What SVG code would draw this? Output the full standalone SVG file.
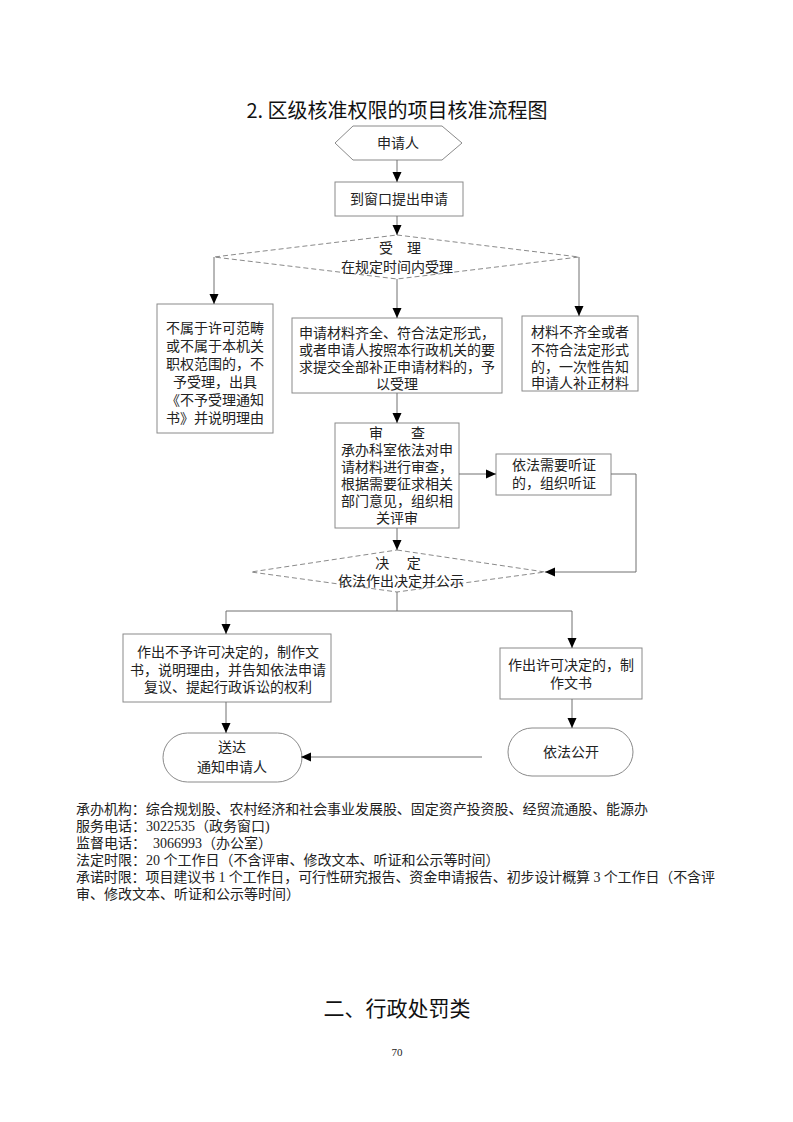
<svg xmlns="http://www.w3.org/2000/svg" width="793" height="1122" viewBox="0 0 793 1122">
<style>
.bg{fill:#fff}
.box{fill:#fff;stroke:#8a8a8a;stroke-width:1}
.dia{fill:#fff;stroke:#8a8a8a;stroke-width:1;stroke-dasharray:5 3}
.con{fill:none;stroke:#707070;stroke-width:1}
.t{font-family:"Liberation Serif","Noto Sans CJK SC",serif;font-size:14px;fill:#222;text-anchor:middle;dominant-baseline:central}
.p{font-family:"Liberation Serif","Noto Sans CJK SC",serif;font-size:14px;fill:#222;dominant-baseline:central}
.h{font-family:"Noto Sans CJK SC",sans-serif;fill:#111;text-anchor:middle}
</style>
<defs>
<marker id="arr" markerUnits="userSpaceOnUse" markerWidth="10" markerHeight="10" refX="10" refY="5" orient="auto">
<path d="M0,0.5 L10,5 L0,9.5 z" fill="#000"/>
</marker>
</defs>
<rect class="bg" x="0" y="0" width="793" height="1122"/>

<text class="h" x="397" y="118" font-size="20">2. 区级核准权限的项目核准流程图</text>

<g id="applicant">
<polygon class="box" points="335,143 353,126 442,126 462,143 442,160 353,160"/>
<text class="t" x="398" y="143">申请人</text>
</g>

<g id="submit">
<rect class="box" x="335" y="182" width="128" height="34"/>
<text class="t" x="399" y="199">到窗口提出申请</text>
</g>

<g id="accept">
<polygon class="dia" points="397,235 579,257 397,279 214,257"/>
<text class="t" x="400" y="248" xml:space="preserve">受　理</text>
<text class="t" x="397" y="267">在规定时间内受理</text>
</g>

<g id="reject">
<rect class="box" x="157" y="304" width="116" height="129"/>
<text class="t" x="215" y="328">不属于许可范畴</text>
<text class="t" x="215" y="346">或不属于本机关</text>
<text class="t" x="215" y="364">职权范围的，不</text>
<text class="t" x="215" y="382">予受理，出具</text>
<text class="t" x="215" y="400">《不予受理通知</text>
<text class="t" x="215" y="418">书》并说明理由</text>
</g>

<g id="accepted">
<rect class="box" x="292" y="318" width="210" height="75"/>
<text class="t" x="397" y="333">申请材料齐全、符合法定形式，</text>
<text class="t" x="397" y="350">或者申请人按照本行政机关的要</text>
<text class="t" x="397" y="367">求提交全部补正申请材料的，予</text>
<text class="t" x="397" y="384">以受理</text>
</g>

<g id="incomplete">
<rect class="box" x="522" y="316" width="116" height="75"/>
<text class="t" x="580" y="332">材料不齐全或者</text>
<text class="t" x="580" y="350">不符合法定形式</text>
<text class="t" x="580" y="367">的，一次性告知</text>
<text class="t" x="580" y="383">申请人补正材料</text>
</g>

<g id="review">
<rect class="box" x="335" y="423" width="124" height="105"/>
<text class="t" x="397" y="433" xml:space="preserve">审　　查</text>
<text class="t" x="397" y="450">承办科室依法对申</text>
<text class="t" x="397" y="467">请材料进行审查，</text>
<text class="t" x="397" y="484">根据需要征求相关</text>
<text class="t" x="397" y="501">部门意见，组织相</text>
<text class="t" x="397" y="518">关评审</text>
</g>

<g id="hearing">
<rect class="box" x="496" y="454" width="115" height="41"/>
<text class="t" x="554" y="465">依法需要听证</text>
<text class="t" x="554" y="483">的，组织听证</text>
</g>

<g id="decision">
<polygon class="dia" points="397,550 545,572 397,592 251,572"/>
<text class="t" x="398" y="563" xml:space="preserve">决　 定</text>
<text class="t" x="401" y="581">依法作出决定并公示</text>
</g>

<g id="deny">
<rect class="box" x="123" y="634" width="208" height="68"/>
<text class="t" x="228" y="652">作出不予许可决定的，制作文</text>
<text class="t" x="228" y="670">书，说明理由，并告知依法申请</text>
<text class="t" x="228" y="687">复议、提起行政诉讼的权利</text>
</g>

<g id="grant">
<rect class="box" x="500" y="648" width="142" height="51"/>
<text class="t" x="571" y="665">作出许可决定的，制</text>
<text class="t" x="571" y="683">作文书</text>
</g>

<g id="deliver">
<rect class="box" x="163" y="733" width="139" height="49" rx="24.5" ry="24.5"/>
<text class="t" x="232" y="747">送达</text>
<text class="t" x="232" y="767">通知申请人</text>
</g>

<g id="publish">
<rect class="box" x="508" y="728" width="125" height="48" rx="24" ry="24"/>
<text class="t" x="571" y="752">依法公开</text>
</g>

<g id="connectors">
<path class="con" d="M397,160 V182" marker-end="url(#arr)"/>
<path class="con" d="M397,216 V235" marker-end="url(#arr)"/>
<path class="con" d="M214,257 V304" marker-end="url(#arr)"/>
<path class="con" d="M397,279 V318" marker-end="url(#arr)"/>
<path class="con" d="M579,257 V316" marker-end="url(#arr)"/>
<path class="con" d="M397,393 V423" marker-end="url(#arr)"/>
<path class="con" d="M459,474 H496" marker-end="url(#arr)"/>
<path class="con" d="M611,474 H636 V572 H545" marker-end="url(#arr)"/>
<path class="con" d="M397,528 V550" marker-end="url(#arr)"/>
<path class="con" d="M397,592 V611"/>
<path class="con" d="M226,611 H572"/>
<path class="con" d="M226,611 V634" marker-end="url(#arr)"/>
<path class="con" d="M572,611 V648" marker-end="url(#arr)"/>
<path class="con" d="M226,702 V733" marker-end="url(#arr)"/>
<path class="con" d="M572,699 V728" marker-end="url(#arr)"/>
<path class="con" d="M482,757 H301" marker-end="url(#arr)"/>
</g>

<g id="notes">
<text class="p" x="76" y="809" textLength="572" lengthAdjust="spacing">承办机构：综合规划股、农村经济和社会事业发展股、固定资产投资股、经贸流通股、能源办</text>
<text class="p" x="76" y="826">服务电话：3022535（政务窗口)</text>
<text class="p" x="76" y="843" xml:space="preserve">监督电话：  3066993（办公室）</text>
<text class="p" x="76" y="860">法定时限：20 个工作日（不含评审、修改文本、听证和公示等时间）</text>
<text class="p" x="76" y="877" textLength="639" lengthAdjust="spacing">承诺时限：项目建议书 1 个工作日，可行性研究报告、资金申请报告、初步设计概算 3 个工作日（不含评</text>
<text class="p" x="76" y="894">审、修改文本、听证和公示等时间）</text>
</g>

<text class="h" x="397" y="1016" font-size="21">二、行政处罚类</text>
<text x="397" y="1056" font-family="Liberation Serif, serif" font-size="11" fill="#222" text-anchor="middle">70</text>
</svg>
